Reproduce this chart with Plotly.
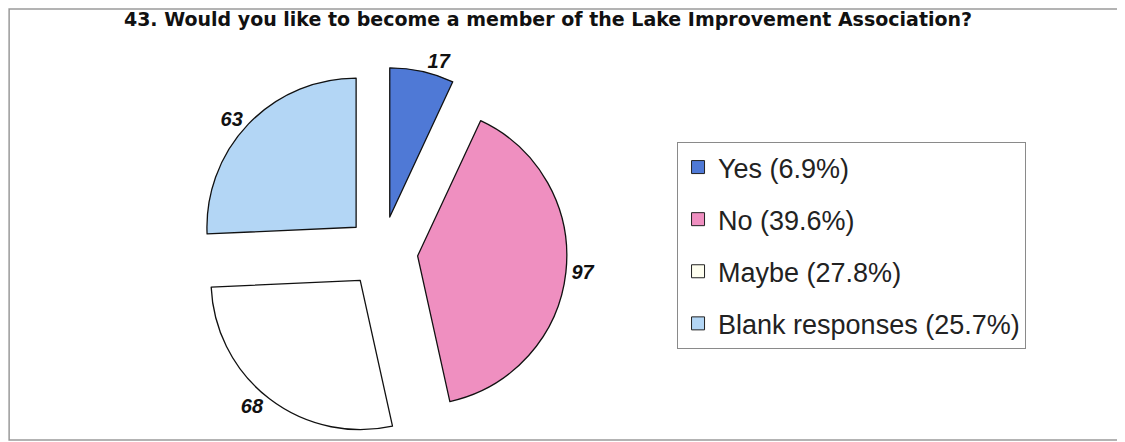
import plotly.graph_objects as go

# Survey question 43 responses
LABELS = ["Yes", "No", "Maybe", "Blank responses"]
COUNTS = [17, 97, 68, 63]
COLORS = ["#4f79d6", "#ef8fc0", "#ffffff", "#b3d6f5"]
LEGEND_COLORS = ["#4f79d6", "#ef8fc0", "#fffff0", "#b3d6f5"]

TITLE = "43. Would you like to become a member of the Lake Improvement Association?"
FONT = "Arial, 'Liberation Sans', sans-serif"

total = sum(COUNTS)

fig = go.Figure()
fig.add_trace(
    go.Pie(
        labels=LABELS,
        values=COUNTS,
        sort=False,
        direction="clockwise",
        rotation=0,
        pull=[0.24] * len(COUNTS),
        marker=dict(colors=COLORS, line=dict(color="#111111", width=1.3)),
        texttemplate="<b><i>%{value}</i></b>",
        textposition="outside",
        textfont=dict(family=FONT, size=20, color="#111111"),
        domain=dict(x=[0.168, 0.4969], y=[0.0294, 0.8665]),
        showlegend=False,
        hovertemplate="%{label}: %{value}<extra></extra>",
    )
)

# legend entries drawn as square markers so item spacing can match the original
for i, (lab, cnt, col) in enumerate(zip(LABELS, COUNTS, LEGEND_COLORS)):
    fig.add_trace(
        go.Scatter(
            x=[None],
            y=[None],
            mode="markers",
            name=f"{lab} ({cnt / total * 100:.1f}%)",
            legendgroup=f"g{i}",
            marker=dict(symbol="square", size=13, color=col, line=dict(color="#222222", width=1)),
        )
    )

fig.update_layout(
    width=1125,
    height=442,
    paper_bgcolor="white",
    plot_bgcolor="white",
    margin=dict(l=0, r=0, t=0, b=0, autoexpand=False),
    font=dict(family=FONT, color="#111111"),
    title=dict(
        text=f"<b>{TITLE}</b>",
        x=0.48,
        xanchor="center",
        y=0.975,
        yanchor="middle",
        font=dict(family="'DejaVu Sans', Arial, sans-serif", size=19, color="#111111"),
    ),
    xaxis=dict(visible=False),
    yaxis=dict(visible=False),
    legend=dict(
        x=0.5947,
        y=0.6968,
        xanchor="left",
        yanchor="top",
        bordercolor="#8a8a8a",
        borderwidth=1,
        bgcolor="white",
        tracegroupgap=14,
        font=dict(family=FONT, size=27, color="#222222"),
    ),
    shapes=[
        dict(
            type="rect",
            xref="paper",
            yref="paper",
            x0=0.001,
            x1=1.01,
            y0=0.0226,
            y1=0.998,
            line=dict(color="#9a9a9a", width=1.5),
        )
    ],
)

fig.write_html("out.html")
